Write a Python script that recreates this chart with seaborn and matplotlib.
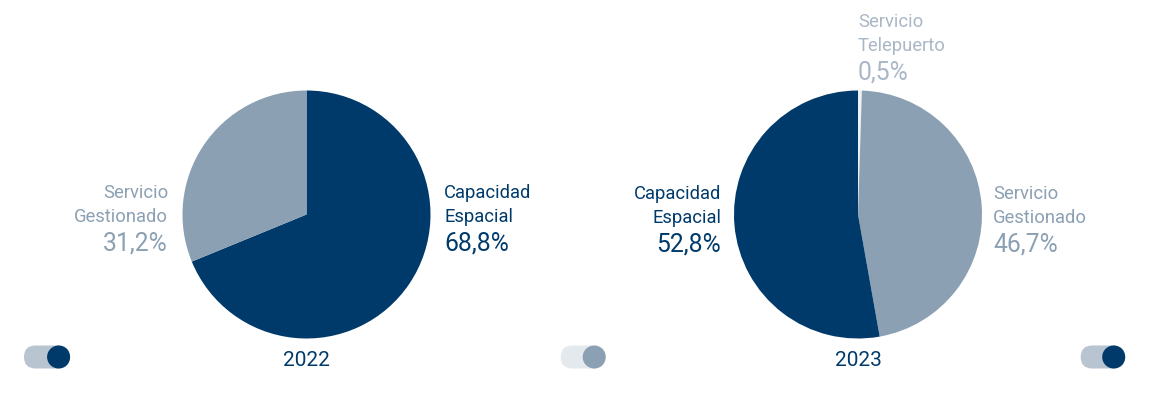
import matplotlib
matplotlib.use("Agg")
import matplotlib.pyplot as plt
from matplotlib.patches import FancyBboxPatch, Circle
import seaborn as sns

# ---- data ----
years = ["2022", "2023"]
labels_2022 = ["Capacidad Espacial", "Servicio Gestionado"]
values_2022 = [68.8, 31.2]
labels_2023 = ["Servicio Telepuerto", "Servicio Gestionado", "Capacidad Espacial"]
values_2023 = [0.5, 46.7, 52.8]
pct_2022 = ["68,8%", "31,2%"]
pct_2023 = ["0,5%", "46,7%", "52,8%"]

NAVY = "#003a6b"
GREY = "#8ca0b3"
LIGHT = "#a9b7c6"
PALE = "#eef1f5"

sns.set_theme(style="white")
plt.rcParams["font.family"] = ["Roboto", "DejaVu Sans"]

W, H = 1150, 394
fig = plt.figure(figsize=(W / 100, H / 100), dpi=100)
fig.patch.set_facecolor("white")

# overlay axes in pixel coordinates
ov = fig.add_axes([0, 0, 1, 1])
ov.set_xlim(0, W)
ov.set_ylim(H, 0)
ov.axis("off")
ov.patch.set_alpha(0)


def pie_axes(cx, cy, r):
    return fig.add_axes([(cx - r) / W, 1 - (cy + r) / H, 2 * r / W, 2 * r / H])


colors_2022 = [NAVY, GREY]
colors_2023 = [PALE, GREY, NAVY]

ax1 = pie_axes(306.5, 214.5, 124)
ax1.pie(values_2022, colors=colors_2022, startangle=90, counterclock=False,
        wedgeprops=dict(linewidth=0))
ax1.set_xlim(-1, 1); ax1.set_ylim(-1, 1); ax1.set_aspect("equal"); ax1.axis("off")

ax2 = pie_axes(858, 214.5, 124)
ax2.pie(values_2023, colors=colors_2023, startangle=90, counterclock=False,
        wedgeprops=dict(linewidth=0))
ax2.set_xlim(-1, 1); ax2.set_ylim(-1, 1); ax2.set_aspect("equal"); ax2.axis("off")

LBL = 13.2
PCT = 17.8
WT = "normal"


def label(x, base, lines, pct, color, ha):
    ov.text(x, base - 1.5, lines[0], fontsize=LBL, color=color, ha=ha, va="baseline", fontweight=WT)
    ov.text(x, base + 22.5, lines[1], fontsize=LBL, color=color, ha=ha, va="baseline", fontweight=WT)
    ov.text(x, base + 51, pct, fontsize=PCT, color=color, ha=ha, va="baseline", fontweight=WT)


def split(s):
    a, b = s.split(" ", 1)
    return [a, b]


# 2022
label(444, 199.5, split(labels_2022[0]), pct_2022[0], NAVY, "left")
label(168, 199.5, split(labels_2022[1]), pct_2022[1], GREY, "right")
# 2023
label(858, 28.5, split(labels_2023[0]), pct_2023[0], LIGHT, "left")
label(993, 200.5, split(labels_2023[1]), pct_2023[1], GREY, "left")
label(721, 200.5, split(labels_2023[2]), pct_2023[2], NAVY, "right")

# year labels
ov.text(306.5, 366.5, years[0], fontsize=15, color=NAVY, ha="center", va="baseline", fontweight=WT)
ov.text(858, 366.5, years[1], fontsize=15, color=NAVY, ha="center", va="baseline", fontweight=WT)


# toggles
def toggle(x0, x1, knob_cx, track_c, knob_c, cy=357, h=23):
    r = h / 2
    ov.add_patch(FancyBboxPatch((x0, cy - r), (x1 - x0), h,
                                boxstyle=f"round,pad=0,rounding_size={r}",
                                fc=track_c, ec="none"))
    ov.add_patch(Circle((knob_cx, cy), r, fc=knob_c, ec="none"))


toggle(24, 70, 58.6, "#b8c4d0", NAVY)
toggle(560.7, 605.7, 594.2, "#e4e9ee", GREY)
toggle(1080.7, 1125.2, 1113.7, "#b8c4d0", NAVY)

fig.savefig("out.png", dpi=100, facecolor="white")
